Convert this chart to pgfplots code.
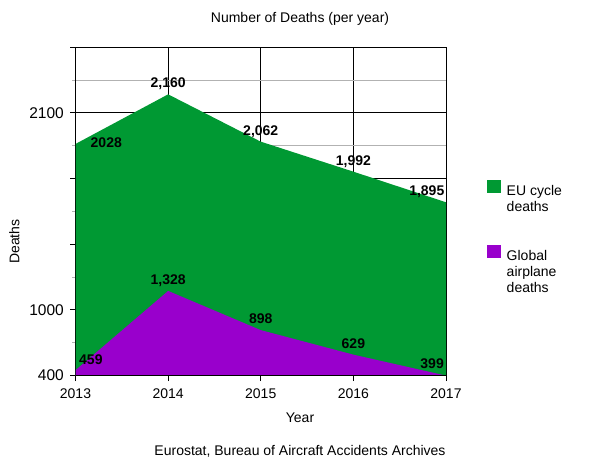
\documentclass[border=0pt]{standalone}
\usepackage{fontspec}
\setmainfont{Liberation Sans}
\usepackage{pgfplots}
\usepackage{pgfplotstable}
\pgfplotsset{compat=1.18}
\definecolor{cycgreen}{RGB}{0,153,51}
\definecolor{airpurple}{RGB}{153,0,204}
% display heights (as drawn) and the printed values
\pgfplotstableread{
year cycle cyclelab air airlab
2013 2940 2028 459 459
2014 3484 2,160 1328 1,328
2015 2965 2,062 898 898
2016 2636 1,992 629 629
2017 2300 1,895 399 399
}\deaths
\newcommand{\fs}{\fontsize{14bp}{16bp}\selectfont}
\begin{document}
\begin{tikzpicture}
\path[use as bounding box] (0,0) rectangle (600bp,463bp);
\begin{axis}[
  at={(75.5bp,87.3bp)}, anchor=south west,
  scale only axis, width=370.5bp, height=328.4bp,
  xmin=2013, xmax=2017, ymin=398, ymax=4000,
  xtick={2013,2014,2015,2016,2017},
  /pgf/number format/assume math mode=true,
  xticklabel style={/pgf/number format/1000 sep={}, font=\fs, inner sep=0pt, yshift=-7bp},
  ytick={400,1120,1840,2560,3280,4000},
  yticklabels={400,1000,,,2100,},
  minor ytick={760,1480,2200,2920,3640},
  yticklabel style={font=\fontsize{15.5bp}{17bp}\selectfont, inner sep=0pt, xshift=-6bp},
  tick pos=left, tick align=outside,
  major tick length=5.5bp, minor tick length=3.5bp,
  grid=both,
  major grid style={black, line width=1bp},
  minor grid style={black!30, line width=1bp},
  every minor tick/.append style={black!30, line width=1bp},
  every major tick/.append style={black, line width=1bp},
  axis line style={black, line width=1bp},
  title={Number of Deaths (per year)},
  every axis title shift=0pt,
  title style={font=\fs, at={(axis description cs:0.606,1.074)}, anchor=base, inner sep=0pt},
  xlabel={Year},
  xlabel style={font=\fs, at={(axis description cs:0.606,-0.1431)}, anchor=base, inner sep=0pt},
  ylabel={Deaths},
  ylabel style={font=\fs, at={(axis description cs:-0.1517,0.4086)}, anchor=base, inner sep=0pt},
  legend style={at={(axis description cs:1.1107,0.598)}, anchor=north west, draw=none, fill=none,
    inner sep=0pt, row sep=48bp, font=\fs, nodes={inner sep=0pt}, column sep=5.5bp},
  legend cell align=left,
  every node near coord/.append style={font=\bfseries\fs, inner sep=0pt},
]
\addplot[draw=none, fill=cycgreen,
  legend image code/.code={\fill[cycgreen] (0bp,-2bp) rectangle (14bp,11.4bp);}]
  table[x=year, y=cycle] {\deaths} \closedcycle;
\addlegendentry{\parbox[t]{80bp}{EU cycle\\deaths}}
\addplot[draw=none, fill=airpurple,
  legend image code/.code={\fill[airpurple] (0bp,-2bp) rectangle (14bp,11.4bp);}]
  table[x=year, y=air] {\deaths} \closedcycle;
\addlegendentry{\parbox[t]{80bp}{Global\\airplane\\deaths}}
% labels, EU cycle
\addplot[draw=none, mark=none, forget plot, nodes near coords, point meta=explicit symbolic,
  restrict x to domain=2014:2016,
  every node near coord/.append style={anchor=base, yshift=6.5bp}]
  table[x=year, y=cycle, meta=cyclelab] {\deaths};
\addplot[draw=none, mark=none, forget plot, nodes near coords, point meta=explicit symbolic,
  restrict x to domain=2013:2013,
  every node near coord/.append style={anchor=base west, xshift=15bp, yshift=-3.3bp}]
  table[x=year, y=cycle, meta=cyclelab] {\deaths};
\addplot[draw=none, mark=none, forget plot, nodes near coords, point meta=explicit symbolic,
  restrict x to domain=2017:2017,
  every node near coord/.append style={anchor=base east, xshift=-1.5bp, yshift=6.3bp}]
  table[x=year, y=cycle, meta=cyclelab] {\deaths};
% labels, airplane
\addplot[draw=none, mark=none, forget plot, nodes near coords, point meta=explicit symbolic,
  restrict x to domain=2014:2016,
  every node near coord/.append style={anchor=base, yshift=6.3bp}]
  table[x=year, y=air, meta=airlab] {\deaths};
\addplot[draw=none, mark=none, forget plot, nodes near coords, point meta=explicit symbolic,
  restrict x to domain=2013:2013,
  every node near coord/.append style={anchor=base west, xshift=3.5bp, yshift=6bp}]
  table[x=year, y=air, meta=airlab] {\deaths};
\addplot[draw=none, mark=none, forget plot, nodes near coords, point meta=explicit symbolic,
  restrict x to domain=2017:2017,
  every node near coord/.append style={anchor=base east, xshift=-2bp, yshift=6.7bp}]
  table[x=year, y=air, meta=airlab] {\deaths};
\draw[black, line width=1bp] (rel axis cs:0,0) rectangle (rel axis cs:1,1);
\end{axis}
\node[anchor=base, font=\fs, inner sep=0pt] at (300bp,8bp) {Eurostat, Bureau of Aircraft Accidents Archives};
\end{tikzpicture}
\end{document}
